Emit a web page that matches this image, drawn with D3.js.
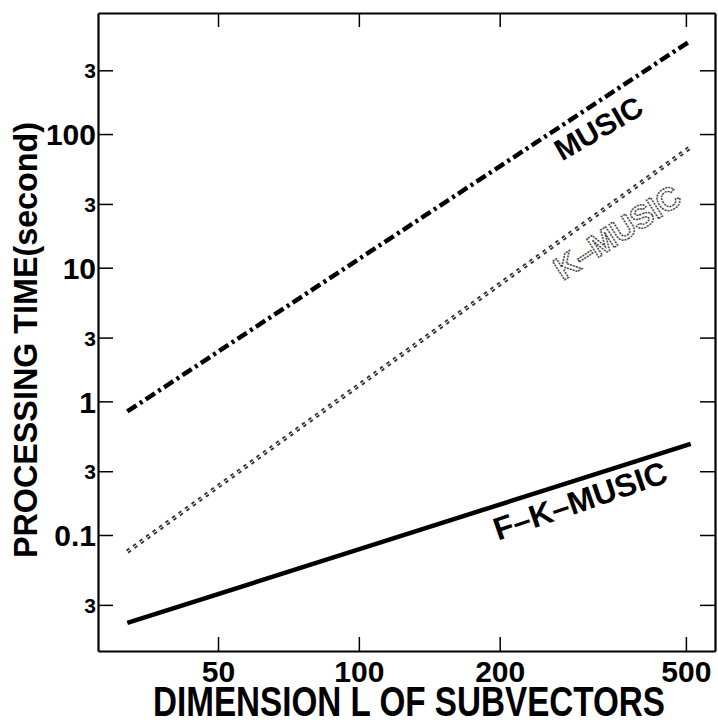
<!DOCTYPE html>
<html>
<head>
<meta charset="utf-8">
<script src="https://cdn.jsdelivr.net/npm/d3@7"></script>
<style>
  body { margin: 0; background: #fff; }
  text { font-family: "Liberation Sans", Arial, sans-serif; font-weight: bold; fill: #000; }
</style>
</head>
<body>
<script>
// values
var dims = [32, 64, 128, 256, 512];
var music = [0.84, 4.15, 20.5, 101, 500];
var kMusic = [0.075, 0.43, 2.45, 14, 80];
var fkMusic = [0.022, 0.0475, 0.103, 0.222, 0.48];

var xTicks = [50, 100, 200, 500];
var yTicks = [0.03, 0.1, 0.3, 1, 3, 10, 30, 100, 300];
var yTickLabels = ["3", "0.1", "3", "1", "3", "10", "3", "100", "3"];
var majorY = [0.1, 1, 10, 100];

var W = 718, H = 722;
var plotL = 98, plotR = 715, plotT = 13, plotB = 651;

var svg = d3.select("body").append("svg").attr("width", W).attr("height", H);

var x = d3.scaleLog().domain([27.7, 577]).range([plotL, plotR]);
var y = d3.scaleLog().domain([0.01355, 805]).range([plotB, plotT]);

// axes, ticks point inward on all four sides
var gLeft = svg.append("g").attr("transform", "translate(" + plotL + ",0)")
    .call(d3.axisLeft(y).tickValues(yTicks).tickSize(-15).tickSizeOuter(0).tickPadding(2)
        .tickFormat(function(d, i){ return yTickLabels[i]; }));
gLeft.selectAll("text")
    .attr("dy", "0.36em")
    .style("font-size", function(d){ return majorY.indexOf(d) >= 0 ? "30px" : "21px"; });

svg.append("g").attr("transform", "translate(" + plotR + ",0)")
    .call(d3.axisRight(y).tickValues(yTicks).tickSize(-15).tickSizeOuter(0).tickFormat(""));

svg.append("g").attr("transform", "translate(0," + plotT + ")")
    .call(d3.axisTop(x).tickValues(xTicks).tickSize(-14).tickSizeOuter(0).tickFormat(""));

var gBottom = svg.append("g").attr("transform", "translate(0," + plotB + ")")
    .call(d3.axisBottom(x).tickValues(xTicks).tickSize(-14).tickSizeOuter(0).tickPadding(10)
        .tickFormat(d3.format("d")));
gBottom.selectAll("text").style("font-size", "30px");

svg.selectAll(".domain").attr("stroke", "#000").attr("stroke-width", 2.2);
svg.selectAll(".tick line").attr("stroke", "#000").attr("stroke-width", 1.5);

// axis titles
svg.append("text")
    .attr("transform", "translate(409,716) scale(1,1.05)")
    .attr("text-anchor", "middle")
    .attr("textLength", 512).attr("lengthAdjust", "spacingAndGlyphs")
    .style("font-size", "40px")
    .text("DIMENSION  L  OF SUBVECTORS");

svg.append("text")
    .attr("transform", "translate(37,340) rotate(-90)")
    .attr("text-anchor", "middle")
    .attr("textLength", 436).attr("lengthAdjust", "spacingAndGlyphs")
    .style("font-size", "33px")
    .text("PROCESSING TIME(second)");

// curves
var line = d3.line()
    .x(function(d){ return x(d[0]); })
    .y(function(d){ return y(d[1]); });

function pairs(vals){ return dims.map(function(L, i){ return [L, vals[i]]; }); }

svg.append("path")
    .attr("d", line(pairs(music)))
    .attr("fill", "none").attr("stroke", "#000").attr("stroke-width", 4.5)
    .attr("stroke-dasharray", "11,4,3,4");

svg.append("path")
    .attr("d", line(pairs(kMusic)))
    .attr("fill", "none").attr("stroke", "#333").attr("stroke-width", 4.5)
    .attr("stroke-dasharray", "3.5,4.5");
svg.append("path")
    .attr("d", line(pairs(kMusic)))
    .attr("fill", "none").attr("stroke", "#fff").attr("stroke-width", 1)
    .attr("stroke-dasharray", "3.5,4.5");

svg.append("path")
    .attr("d", line(pairs(fkMusic)))
    .attr("fill", "none").attr("stroke", "#000").attr("stroke-width", 4.5);

// curve labels
function label(txt, L, v, ang, size, hollow){
  var t = svg.append("text")
      .attr("transform", "translate(" + x(L) + "," + y(v) + ") rotate(" + ang + ")")
      .attr("text-anchor", "middle").attr("dy", "0.36em")
      .style("font-size", size + "px")
      .text(txt);
  if (hollow) {
    t.style("fill", "#fff").style("stroke", "#444").style("stroke-width", 1.5)
     .style("stroke-dasharray", "2,1");
  }
}
label("MUSIC", 325, 111, -30, 30, false);
label("K\u2013MUSIC", 356, 18.5, -33, 32, true);
label("F\u2013K\u2013MUSIC", 297, 0.182, -19, 32, false);
</script>
</body>
</html>
